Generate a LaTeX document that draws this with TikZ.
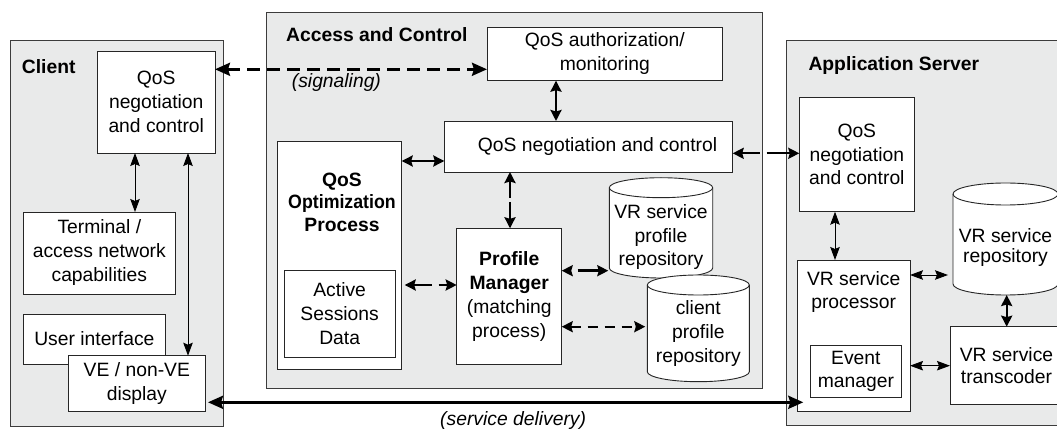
\documentclass[tikz,border=0pt]{standalone}
\usepackage{fontspec}
\usepackage{graphicx}
\setmainfont{Liberation Sans}
\usetikzlibrary{arrows.meta}
\definecolor{panelfill}{HTML}{E9EAEA}
\definecolor{pborder}{HTML}{3C3C3C}
\definecolor{boxline}{HTML}{262626}
\newcommand{\drawcyl}[5]{%
  \path[draw=boxline, fill=white, line width=0.9pt] (#1-#2,#3) -- (#1-#2,#4)
    arc[start angle=180, end angle=0, x radius=#2, y radius=#5] -- (#1+#2,#3)
    arc[start angle=0, end angle=-180, x radius=#2, y radius=#5] -- cycle;
  \draw[line width=0.9pt, boxline] (#1-#2,#3) arc[start angle=180, end angle=0, x radius=#2, y radius=#5];}
\tikzset{
 panel/.style={draw=pborder, fill=panelfill, line width=1pt, inner sep=0pt, outer sep=0pt},
 box/.style={draw=boxline, fill=white, line width=0.9pt, inner sep=0pt, outer sep=0pt},
 ttl/.style={font=\fontsize{19.3}{24}\selectfont\bfseries, anchor=base west, inner sep=0pt},
 lbl/.style={font=\fontsize{19.3}{24}\selectfont\itshape, anchor=base west, inner sep=0pt},
 txt/.style={inner sep=0pt, outer sep=0pt, align=center},
 hthin/.tip={Stealth[length=13pt,width=9.5pt,inset=2pt]},
 hthk/.tip={Stealth[length=11pt,width=11pt,inset=1.5pt]},
 hbig/.tip={Stealth[length=15pt,width=13pt,inset=2pt]},
 thinarr/.style={line width=0.9pt, hthin-hthin},
 thkarr/.style={line width=2.4pt, hthk-hthk},
 dsharr/.style={line width=2.4pt, hthk-hthk, dash pattern=on 9pt off 6pt},
 sigarr/.style={line width=2.8pt, hbig-hbig, dash pattern=on 13pt off 7pt},
 delarr/.style={line width=2.8pt, hbig-hbig},
}
\begin{document}
\begin{tikzpicture}[x=1pt,y=-1pt,font=\fontsize{19.3}{24}\selectfont]
\useasboundingbox (0,0) rectangle (1057,430);
\clip (0,0) rectangle (1057,430);

% ---------- panels ----------
\node[panel, minimum width=213, minimum height=385] (client) at (116.5,233.5) {};
\node[panel, minimum width=495.3, minimum height=375] (access) at (514.35,200.5) {};
\node[panel, minimum width=288.3, minimum height=384.7] (appsrv) at (930.85,233.35) {};

\node[ttl] (tclient) at (21.7,73.3) {Client};
\node[ttl] (taccess) at (286,41.5) {Access and Control};
\node[ttl] (tapp) at (808.3,71) {Application Server};

% ---------- client ----------
\node[box, txt, minimum width=117.5, minimum height=102] (cqos) at (156.25,102) {QoS\\negotiation\\and control};
\node[box, txt, minimum width=151.3, minimum height=82] (term) at (99.35,253) {Terminal /\\access network\\capabilities};
\node[box, txt, minimum width=141.3, minimum height=50] (ui) at (94.35,339) {User interface};
\node[box, txt, minimum width=136.3, minimum height=56] (disp) at (136.85,383.7) {VE / non-VE\\display};

% ---------- access and control ----------
\node[box, txt, minimum width=235.7, minimum height=53.7] (auth) at (604.85,53.85) {QoS authorization/\\monitoring};
\node[box, minimum width=288.4, minimum height=51] (aneg) at (588.5,146.5) {\hspace*{18pt}QoS negotiation and control};
\node[box, minimum width=124.4, minimum height=227.7] (opt) at (339.5,255.15) {};
\node[txt, font=\fontsize{19.3}{22.5}\selectfont\bfseries] (optt) at (342,202) {QoS\\\scalebox{0.92}[1]{Optimization}\\Process};
\node[box, txt, minimum width=110.7, minimum height=87.4] (asd) at (339.65,314) {Active\\Sessions\\Data};
\node[box, txt, minimum width=105, minimum height=135.7] (pm) at (509.2,296.15) {\textbf{Profile}\\\textbf{Manager}\\(matching\\process)};

\drawcyl{661}{51.7}{187.7}{268}{10}
\node[txt, font=\fontsize{19.3}{23.5}\selectfont, minimum width=103.4, minimum height=81] (vrprof) at (661,237.5) {VR service\\profile\\repository};
\drawcyl{698.3}{51}{285}{371.7}{10}
\node[txt, font=\fontsize{19.3}{24}\selectfont, minimum width=102, minimum height=95.4] (cprof) at (698.3,334) {client\\profile\\repository};

% ---------- application server ----------
\node[box, txt, font=\fontsize{19.3}{23.3}\selectfont, minimum width=115, minimum height=114.4] (aqos) at (856.8,154.5) {QoS\\negotiation\\and control};
\node[box, minimum width=112.7, minimum height=151.7] (proc) at (853.65,335.85) {};
\node[txt, font=\fontsize{19.3}{23.3}\selectfont] (proct) at (853.65,291.7) {VR service\\processor};
\node[box, txt, font=\fontsize{19.3}{23.3}\selectfont, minimum width=91.7, minimum height=51.6] (event) at (855.85,371.5) {Event\\manager};
\drawcyl{1005.5}{52.5}{194}{284}{11}
\node[txt, font=\fontsize{19.3}{20}\selectfont, minimum width=105, minimum height=94] (repo) at (1005.5,248) {VR service\\repository};
\node[box, txt, font=\fontsize{19.3}{22}\selectfont, minimum width=113, minimum height=77.3] (trans) at (1006.5,365.35) {VR service\\transcoder};

% ---------- helper coordinates ----------
\coordinate (ySig) at (0,69.3);
\coordinate (xC1) at (135,0);
\coordinate (xC2) at (188,0);
\coordinate (xA1) at (556,0);
\coordinate (yA1) at (0,161);
\coordinate (xA2) at (510,0);
\coordinate (yA2) at (0,285);
\coordinate (yA3) at (0,270.7);
\coordinate (yA4) at (0,326.7);
\coordinate (yA5) at (0,153.3);
\coordinate (xS1) at (835,0);
\coordinate (yS1) at (0,275);
\coordinate (yS2) at (0,365.7);
\coordinate (xS2) at (1006.7,0);
\coordinate (yDel) at (0,402.3);

% ---------- connectors ----------
\draw[thinarr] (cqos.south -| xC1) -- (term.north -| xC1);
\draw[thinarr] (cqos.south -| xC2) -- (disp.north -| xC2);
\draw[sigarr] (cqos.east |- ySig) -- (auth.west |- ySig);
\node[lbl] (lsig) at (291.7,87.5) {(signaling)};

\draw[thkarr] (auth.south -| xA1) -- (aneg.north -| xA1);
\draw[thkarr] (opt.east |- yA1) -- (aneg.west |- yA1);
\draw[thkarr, dash pattern=on 17pt off 4pt] (aneg.south -| xA2) -- (pm.north -| xA2);
\draw[thkarr, dash pattern=on 18pt off 7pt, shorten <=3pt] (opt.east |- yA2) -- (pm.west |- yA2);
\draw[thkarr, dash pattern=on 0pt off 7pt on 30pt off 1pt, shorten >=1pt] (pm.east |- yA3) -- (vrprof.west |- yA3);
\draw[dsharr, dash pattern=on 10pt off 7pt, shorten >=2pt] (pm.east |- yA4) -- (cprof.west |- yA4);
\draw[thkarr, dash pattern=on 18pt off 7pt on 60pt off 1pt] (aneg.east |- yA5) -- (aqos.west |- yA5);

\draw[thinarr] (aqos.south -| xS1) -- (proc.north -| xS1);
\draw[thinarr, shorten >=5pt] (proc.east |- yS1) -- (repo.west |- yS1);
\draw[thinarr] (proc.east |- yS2) -- (trans.west |- yS2);
\draw[thkarr] (repo.south -| xS2) -- (trans.north -| xS2);

\draw[delarr, shorten <=3pt, shorten >=-6pt] (disp.east |- yDel) -- (proc.west |- yDel);
\node[lbl] (ldel) at (440,425) {(service delivery)};
\end{tikzpicture}
\end{document}
